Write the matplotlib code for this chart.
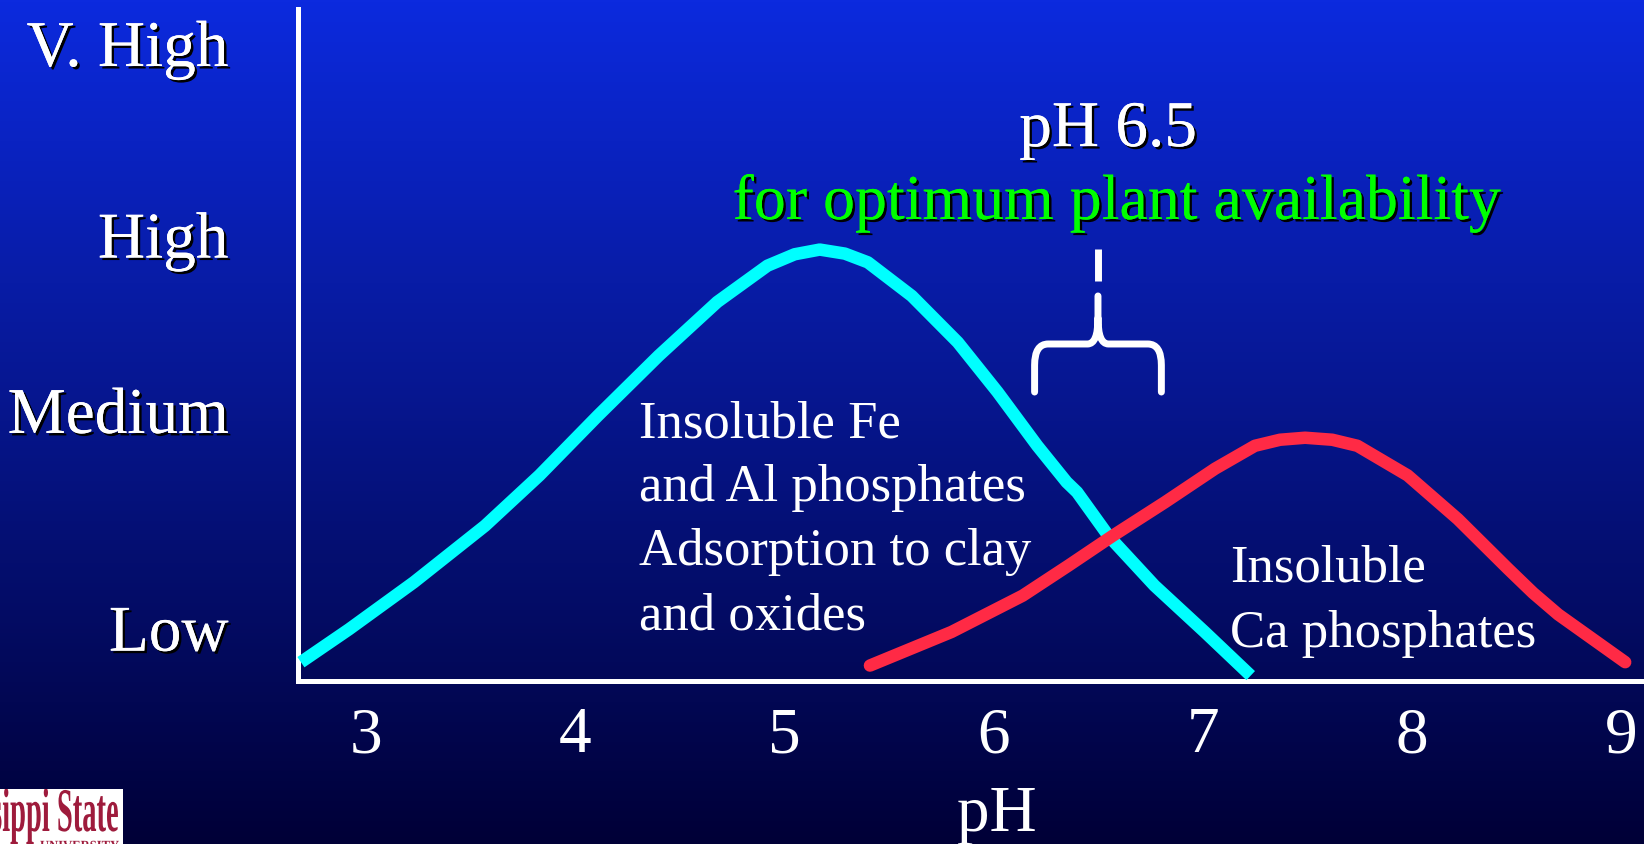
import numpy as np
import matplotlib
matplotlib.use("Agg")
import matplotlib.pyplot as plt
from matplotlib import patheffects as pe
from matplotlib.path import Path
from matplotlib.patches import PathPatch, Rectangle
from matplotlib.textpath import TextPath
from matplotlib.font_manager import FontProperties
from matplotlib.transforms import Affine2D, IdentityTransform

plt.rcParams['font.family'] = ['Liberation Serif', 'DejaVu Serif']

# data
ph_ticks = [3, 4, 5, 6, 7, 8, 9]
level_labels = ['Low', 'Medium', 'High', 'V. High']
level_pos = [7.9, 40.3, 66.4, 94.9]

# Fe / Al phosphate curve (cyan)
feal_ph = [2.69, 2.92, 3.23, 3.57, 3.83, 4.11, 4.40, 4.68, 4.92, 5.05,
           5.17, 5.29, 5.40, 5.61, 5.83, 6.02, 6.21, 6.35, 6.40, 6.55,
           6.77, 7.01, 7.23]
feal_avail = [2.8, 7.7, 14.7, 23.1, 30.6, 39.5, 48.4, 56.4, 61.8, 63.5,
              64.2, 63.6, 62.3, 57.3, 50.4, 43.0, 35.0, 29.6, 28.1, 21.6,
              14.2, 7.3, 0.8]

# Ca phosphate curve (red)
ca_ph = [5.41, 5.80, 6.14, 6.36, 6.57, 6.82, 7.06, 7.25, 7.37, 7.49,
         7.62, 7.74, 7.98, 8.22, 8.46, 8.58, 8.70, 9.02]
ca_avail = [2.3, 7.3, 12.7, 17.2, 21.6, 26.6, 31.6, 35.0, 35.9, 36.2,
            35.9, 35.0, 30.6, 24.1, 16.7, 13.1, 9.9, 2.8]

feal_lines = ['Insoluble Fe', 'and Al phosphates', 'Adsorption to clay', 'and oxides']
ca_lines = ['Insoluble', 'Ca phosphates']
optimum_ph = 6.5

W, H, DPI = 1644, 845, 100
fig = plt.figure(figsize=(W / DPI, H / DPI), dpi=DPI)

# blue gradient background
bg = fig.add_axes([0, 0, 1, 1], zorder=0)
top = np.array([12, 42, 222]) / 255
bot = np.array([0, 0, 55]) / 255
t = np.linspace(0, 1, 256)[:, None]
grad = (top[None, :] * (1 - t) + bot[None, :] * t)[:, None, :]
bg.imshow(grad, aspect='auto', extent=[0, 1, 0, 1])
bg.axis('off')

ax = fig.add_axes([298 / W, 163 / H, 1346 / W, 672 / H], zorder=1)
ax.set_facecolor('none')
ax.set_xlim(2.676, 9.11)
ax.set_ylim(0, 100)

for s in ['top', 'right']:
    ax.spines[s].set_visible(False)
for s in ['left', 'bottom']:
    ax.spines[s].set_color('white')
    ax.spines[s].set_linewidth(3.6)

shadow = [pe.withSimplePatchShadow(offset=(1.8, -1.8), shadow_rgbFace='black', alpha=1.0), pe.Normal()]

ax.set_xticks(ph_ticks)
ax.set_xticklabels([str(v) for v in ph_ticks])
ax.tick_params(axis='x', length=0, pad=18, labelsize=47, labelcolor='white')
ax.set_yticks(level_pos)
ax.set_yticklabels(level_labels)
ax.tick_params(axis='y', length=0, pad=50, labelsize=47, labelcolor='white')
for lab in ax.get_yticklabels():
    lab.set_path_effects(shadow)

ax.set_xlabel('pH', fontsize=47, color='white')
ax.xaxis.set_label_coords(0.519, -0.222)
ax.xaxis.label.set_va('baseline')

ax.plot(feal_ph, feal_avail, color='#00FFFF', lw=9, solid_capstyle='butt',
        solid_joinstyle='round', clip_on=False, zorder=3)
ax.plot(ca_ph, ca_avail, color='#FF2A45', lw=9, solid_capstyle='round',
        solid_joinstyle='round', clip_on=False, zorder=3)

# annotations
for i, line in enumerate(feal_lines):
    ax.annotate(line, (4.306, 36.4), xytext=(0, -i * 46), textcoords='offset points',
                fontsize=38, color='white', va='baseline', ha='left')
for i, line in enumerate(ca_lines):
    ax.annotate(line, (7.131, 14.9), xytext=(0, -i * 47), textcoords='offset points',
                fontsize=38, color='white', va='baseline', ha='left')

ax.text(6.548, 79.6, 'pH 6.5', fontsize=47, color='white', ha='center',
        va='baseline', path_effects=shadow)
ax.text(6.591, 68.75, 'for optimum plant availability', fontsize=46, color='#00FF00',
        ha='center', va='baseline', path_effects=shadow)

# brace under the text pointing at pH 6.5
c, hw = optimum_ph, 0.303
ax.plot([c, c], [59.5, 64.3], color='white', lw=5, solid_capstyle='butt', clip_on=False)
verts = [(c - hw, 43.0), (c - hw, 47.0), (c - hw, 50.15), (c - hw + 0.065, 50.15),
         (c - 0.05, 50.15), (c, 50.15), (c, 54.0), (c, 57.3),
         (c, 54.0), (c, 50.15), (c + 0.05, 50.15),
         (c + hw - 0.065, 50.15), (c + hw, 50.15), (c + hw, 47.0), (c + hw, 43.0)]
codes = [Path.MOVETO, Path.LINETO, Path.CURVE3, Path.CURVE3,
         Path.LINETO, Path.CURVE3, Path.CURVE3, Path.LINETO,
         Path.MOVETO, Path.CURVE3, Path.CURVE3,
         Path.LINETO, Path.CURVE3, Path.CURVE3, Path.LINETO]
ax.add_patch(PathPatch(Path(verts, codes), facecolor='none', edgecolor='white',
                       lw=5, capstyle='round', joinstyle='round', clip_on=False))

# cropped university logo in the corner
logo_box = Rectangle((0, 0), 123 / W, 55 / H, transform=fig.transFigure,
                     facecolor='white', edgecolor='none', zorder=5)
fig.patches.append(logo_box)
tp = TextPath((0, 0), 'ssippi State', size=62,
              prop=FontProperties(family='Liberation Serif', weight='bold'))
logo_txt = PathPatch(tp, facecolor='#9E1B3C', edgecolor='none', zorder=6,
                     transform=Affine2D().scale(0.46, 1.0).translate(-20, 13) + IdentityTransform())
logo_txt.set_clip_path(logo_box)
fig.patches.append(logo_txt)
tp2 = TextPath((0, 0), 'UNIVERSITY', size=14,
               prop=FontProperties(family='Liberation Serif', weight='bold'))
logo_sub = PathPatch(tp2, facecolor='#9E1B3C', edgecolor='none', zorder=6,
                     transform=Affine2D().scale(0.9, 1.0).translate(40, -6) + IdentityTransform())
logo_sub.set_clip_path(logo_box)
fig.patches.append(logo_sub)

fig.savefig('out.png', dpi=DPI)
